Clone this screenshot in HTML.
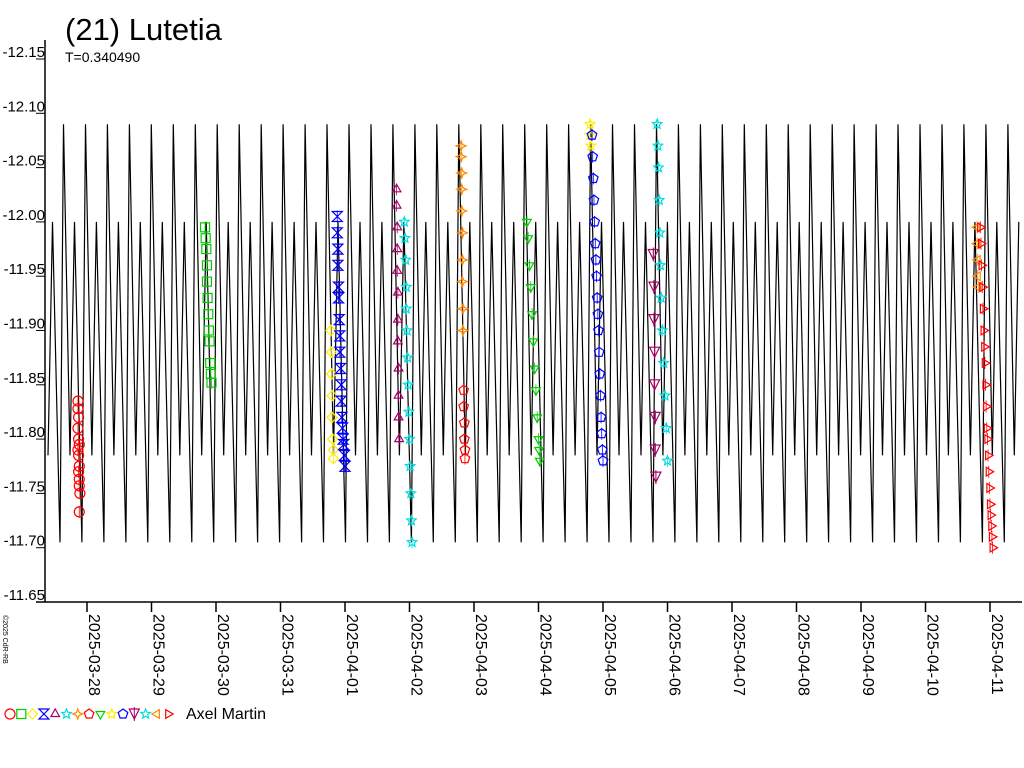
<!DOCTYPE html>
<html><head><meta charset="utf-8"><style>
body{margin:0;background:#fff;width:1024px;height:768px;overflow:hidden;font-family:"Liberation Sans",sans-serif}
svg{display:block}
</style></head><body>
<svg id="chart" width="1024" height="768" xmlns="http://www.w3.org/2000/svg">
<text x="65" y="40" font-size="31" fill="#000">(21) Lutetia</text>
<text x="65" y="62" font-size="14" fill="#000">T=0.340490</text>
<g id="axes"></g>
<g id="curve"></g>
<g id="obs"></g>
<text transform="translate(3,615) rotate(90)" font-size="7" fill="#000">©2025 CdR-RB</text>
<g id="legend"></g>
</svg>
<script>
const NS="http://www.w3.org/2000/svg";
const yTicks=[-12.15,-12.10,-12.05,-12.00,-11.95,-11.90,-11.85,-11.80,-11.75,-11.70,-11.65];
const dateLabels=["2025-03-28","2025-03-29","2025-03-30","2025-03-31","2025-04-01","2025-04-02","2025-04-03","2025-04-04","2025-04-05","2025-04-06","2025-04-07","2025-04-08","2025-04-09","2025-04-10","2025-04-11"];
const period=0.340490;
const epoch=-0.6047;
const curvePhase=[0,0.205,0.546,0.706,1];
const curveMag=[-11.785,-12.0,-11.705,-12.09,-11.785];
const sessions=[
{sym:"circle",col:"#ff0000",d:[-0.14,-0.14,-0.13,-0.14,-0.13,-0.12,-0.14,-0.13,-0.12,-0.13,-0.12,-0.12,-0.11,-0.12],m:[-11.835,-11.828,-11.82,-11.81,-11.8,-11.795,-11.79,-11.785,-11.775,-11.77,-11.763,-11.757,-11.75,-11.733]},
{sym:"square",col:"#00cc00",d:[1.83,1.84,1.85,1.86,1.86,1.87,1.88,1.89,1.9,1.91,1.92,1.93],m:[-11.995,-11.985,-11.975,-11.96,-11.945,-11.93,-11.915,-11.9,-11.89,-11.87,-11.86,-11.852]},
{sym:"diamond",col:"#ffee00",d:[3.78,3.79,3.79,3.8,3.8,3.81,3.82,3.82],m:[-11.9,-11.88,-11.86,-11.84,-11.82,-11.8,-11.79,-11.782]},
{sym:"bowtie",col:"#0000ff",d:[3.88,3.88,3.89,3.89,3.9,3.9,3.91,3.92,3.92,3.93,3.94,3.94,3.95,3.96,3.97,3.98,3.99,4.0],m:[-12.005,-11.99,-11.975,-11.96,-11.94,-11.93,-11.91,-11.895,-11.88,-11.865,-11.85,-11.835,-11.82,-11.81,-11.8,-11.795,-11.785,-11.775]},
{sym:"triangle",col:"#aa0066",d:[4.8,4.8,4.81,4.81,4.81,4.82,4.82,4.82,4.83,4.83,4.83,4.84],m:[-12.03,-12.015,-11.995,-11.975,-11.955,-11.935,-11.91,-11.89,-11.865,-11.84,-11.82,-11.8]},
{sym:"star",col:"#00dddd",d:[4.92,4.93,4.94,4.95,4.95,4.96,4.97,4.98,4.99,5.0,5.01,5.02,5.03,5.04],m:[-12.0,-11.985,-11.965,-11.94,-11.92,-11.9,-11.875,-11.85,-11.825,-11.8,-11.775,-11.75,-11.725,-11.705]},
{sym:"diamond4",col:"#ff8800",d:[5.8,5.8,5.81,5.81,5.81,5.82,5.82,5.82,5.83,5.83],m:[-12.07,-12.06,-12.045,-12.03,-12.01,-11.99,-11.965,-11.945,-11.92,-11.9]},
{sym:"pentagon",col:"#ff0000",d:[5.84,5.84,5.85,5.85,5.86,5.86],m:[-11.845,-11.83,-11.815,-11.8,-11.79,-11.782]},
{sym:"tridown",col:"#00cc00",d:[6.82,6.84,6.86,6.88,6.9,6.92,6.94,6.96,6.98,7.0,7.01,7.02],m:[-12.0,-11.985,-11.96,-11.94,-11.915,-11.89,-11.865,-11.845,-11.82,-11.8,-11.79,-11.78]},
{sym:"star",col:"#ffee00",d:[7.8,7.8,7.81],m:[-12.09,-12.08,-12.07]},
{sym:"pentagon",col:"#0000ff",d:[7.83,7.84,7.85,7.86,7.87,7.88,7.89,7.9,7.91,7.92,7.93,7.94,7.95,7.96,7.97,7.98,7.99,8.0],m:[-12.08,-12.06,-12.04,-12.02,-12.0,-11.98,-11.965,-11.95,-11.93,-11.915,-11.9,-11.88,-11.86,-11.84,-11.82,-11.805,-11.79,-11.78]},
{sym:"trident",col:"#aa0066",d:[8.78,8.79,8.79,8.8,8.8,8.81,8.81,8.82],m:[-11.97,-11.94,-11.91,-11.88,-11.85,-11.82,-11.79,-11.765]},
{sym:"star",col:"#00dddd",d:[8.84,8.85,8.86,8.87,8.88,8.89,8.9,8.92,8.94,8.96,8.98,9.0],m:[-12.09,-12.07,-12.05,-12.02,-11.99,-11.96,-11.93,-11.9,-11.87,-11.84,-11.81,-11.78]},
{sym:"triLeft",col:"#ff8800",d:[13.8,13.8,13.81,13.81,13.82],m:[-11.995,-11.98,-11.965,-11.95,-11.94]},
{sym:"triRight",col:"#ff0000",d:[13.85,13.86,13.87,13.88,13.89,13.9,13.91,13.92,13.93,13.94,13.95,13.96,13.97,13.98,13.99,14.0,14.01,14.02,14.03,14.04],m:[-11.995,-11.98,-11.96,-11.94,-11.92,-11.9,-11.885,-11.87,-11.85,-11.83,-11.81,-11.8,-11.785,-11.77,-11.755,-11.74,-11.73,-11.72,-11.71,-11.7]}
];
const legendSyms=[["circle","#ff0000"],["square","#00cc00"],["diamond","#ffee00"],["bowtie","#0000ff"],["triangle","#aa0066"],["star","#00dddd"],["diamond4","#ff8800"],["pentagon","#ff0000"],["tridown","#00cc00"],["star","#ffee00"],["pentagon","#0000ff"],["trident","#aa0066"],["star","#00dddd"],["triLeft","#ff8800"],["triRight","#ff0000"]];

const X0=45,X1=1022,Y0=59,YB=602;
const dayPx=64.5, day0X=87;
function xs(d){return day0X+d*dayPx;}
function ys(m){return Y0+(m-yTicks[0])/(yTicks[yTicks.length-1]-yTicks[0])*543;}
function mk(tag,attrs,parent){const e=document.createElementNS(NS,tag);for(const k in attrs)e.setAttribute(k,attrs[k]);parent.appendChild(e);return e;}

const axes=document.getElementById('axes');
const yl=mk('line',{x1:X0,y1:40,x2:X0,y2:YB,stroke:'#000','stroke-width':1.5},axes);


const xl=mk('line',{x1:36,y1:YB,x2:X1,y2:YB,stroke:'#000','stroke-width':1.5},axes);


yTicks.forEach(v=>{
  const y=ys(v);
  const t=mk('text',{x:X0,y:y-2,'font-size':15,'text-anchor':'end',fill:'#000'},axes);
  t.textContent=v.toFixed(2);
  
  
  mk('line',{x1:X0-9,y1:y,x2:X0,y2:y,stroke:'#000','stroke-width':1},axes);
});
dateLabels.forEach((s,i)=>{
  const x=xs(i);
  mk('line',{x1:x,y1:YB,x2:x,y2:YB+10,stroke:'#000','stroke-width':1.5},axes);
  const t=mk('text',{transform:`translate(${x+2},614) rotate(90)`,'font-size':16,fill:'#000'},axes);
  t.textContent=s;
  
  
});

const curve=document.getElementById('curve');
let pts=[];
const dStart=(X0-day0X)/dayPx, dEnd=(X1-day0X)/dayPx;
let k=Math.floor((dStart-epoch)/period)-1;
for(;;k++){
  let stop=false;
  for(let j=0;j<curvePhase.length-1;j++){
    const d=epoch+(k+curvePhase[j])*period;
    if(d>dEnd){stop=true;break;}
    if(d>=dStart)pts.push(xs(d).toFixed(1)+','+ys(curveMag[j]).toFixed(1));
  }
  if(stop)break;
}
const pl=mk('polyline',{points:pts.join(' '),fill:'none',stroke:'#000','stroke-width':1.2},curve);



function sym(type,x,y,c,parent){
  const r=5;let e;
  const poly=p=>mk('polygon',{points:p.map(a=>a[0].toFixed(1)+','+a[1].toFixed(1)).join(' '),fill:'none',stroke:c,'stroke-width':1.2},parent);
  const reg=(n,rot)=>{const a=[];for(let i=0;i<n;i++){const t=rot+i*2*Math.PI/n;a.push([x+r*Math.cos(t),y+r*Math.sin(t)]);}return a;};
  switch(type){
    case 'circle':e=mk('circle',{cx:x,cy:y,r:r,fill:'none',stroke:c,'stroke-width':1.2},parent);break;
    case 'square':e=mk('rect',{x:x-r+0.5,y:y-r+0.5,width:2*r-1,height:2*r-1,fill:'none',stroke:c,'stroke-width':1.2},parent);break;
    case 'diamond':e=poly(reg(4,0));break;
    case 'bowtie':e=poly([[x-r,y-r],[x+r,y-r],[x,y],[x+r,y+r],[x-r,y+r],[x,y]]);break;
    case 'triangle':e=poly(reg(3,-Math.PI/2));break;
    case 'tridown':e=poly(reg(3,Math.PI/2));break;
    case 'triLeft':e=poly(reg(3,Math.PI));break;
    case 'triRight':e=poly(reg(3,0));break;
    case 'pentagon':e=poly(reg(5,-Math.PI/2));break;
    case 'diamond4':{const a=[];for(let i=0;i<8;i++){const t=i*Math.PI/4;const rr=i%2?r*0.4:r;a.push([x+rr*Math.cos(t),y+rr*Math.sin(t)]);}e=poly(a);break;}
    case 'star':{const a=[];for(let i=0;i<10;i++){const t=-Math.PI/2+i*Math.PI/5;const rr=i%2?r*0.45:r;a.push([x+rr*Math.cos(t),y+rr*Math.sin(t)]);}e=poly(a);break;}
    case 'trident':e=poly([[x-r,y-r],[x+r,y-r],[x,y+r]]);mk('line',{x1:x,y1:y-r-2,x2:x,y2:y+r+2,stroke:c},parent);break;
  }
  return e;
}
const obs=document.getElementById('obs');
sessions.forEach(s=>{
  const g=mk('g',{},obs);
  
  
  s.d.forEach((d,i)=>{
    const x=xs(d),y=ys(s.m[i]);
    mk('line',{x1:x,y1:y-6,x2:x,y2:y+6,stroke:s.col,'stroke-width':0.8},g);
    const e=sym(s.sym,x,y,s.col,g);
    
    
  });
});
const leg=document.getElementById('legend');
legendSyms.forEach((p,i)=>{
  const e=sym(p[0],10+i*11.3,714,p[1],leg);
  
  
});
const lt=mk('text',{x:186,y:719,'font-size':16,fill:'#000'},leg);
lt.textContent='Axel Martin';


</script>
</body></html>
